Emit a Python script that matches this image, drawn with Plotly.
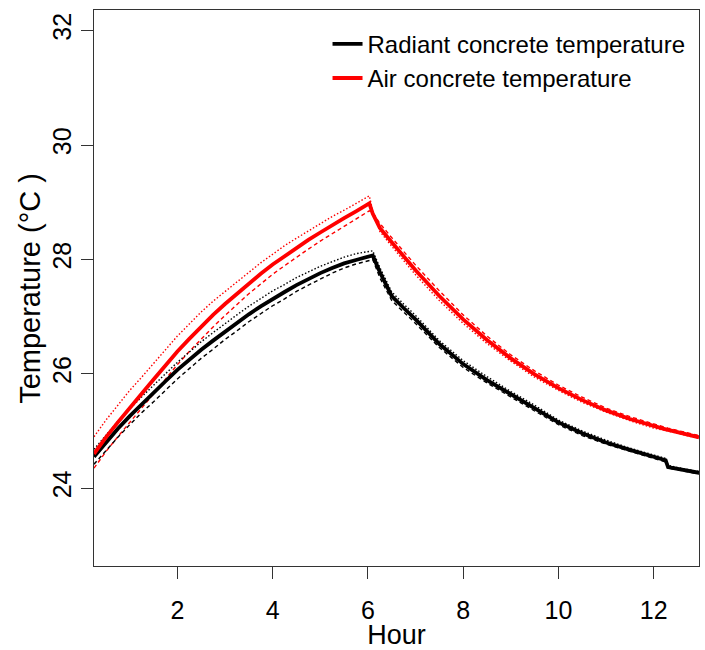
import plotly.graph_objects as go

# Elapsed time (h)
hours = [0.25, 0.5, 0.75, 1.0, 1.25, 1.5, 1.75, 2.0, 2.25, 2.5, 2.75, 3.0, 3.25, 3.5,
         3.75, 4.0, 4.25, 4.5, 4.75, 5.0, 5.25, 5.5, 5.75, 6.03,
         6.1, 6.25, 6.5, 6.75, 7.0, 7.5, 8.0, 8.5, 9.0, 9.5, 10.0, 10.5, 11.0, 11.5,
         12.0, 12.25, 12.3, 12.5, 12.95]

# Radiant concrete temperature (°C): mean and bounds
radiant = [24.55, 24.80, 25.04, 25.26, 25.47, 25.67, 25.87, 26.07, 26.25, 26.42, 26.58,
           26.74, 26.89, 27.04, 27.18, 27.31, 27.43, 27.55, 27.66, 27.76, 27.85, 27.93,
           27.99, 28.05,
           28.07, 27.78, 27.36, 27.15, 26.95, 26.52, 26.17, 25.89, 25.64, 25.40, 25.15,
           24.96, 24.80, 24.67, 24.55, 24.49, 24.37, 24.34, 24.27]
radiant_dotted = [24.68, 24.93, 25.17, 25.39, 25.60, 25.80, 26.00, 26.20, 26.38, 26.56,
                  26.72, 26.88, 27.03, 27.18, 27.32, 27.45, 27.56, 27.68, 27.78, 27.88,
                  27.96, 28.04, 28.10, 28.15,
                  28.15, 27.86, 27.43, 27.22, 27.02, 26.58, 26.23, 25.95, 25.69, 25.45,
                  25.19, 25.00, 24.84, 24.70, 24.58, 24.52, 24.40, 24.36, 24.29]
radiant_dashed = [24.42, 24.66, 24.89, 25.11, 25.32, 25.51, 25.71, 25.91, 26.09, 26.27,
                  26.43, 26.60, 26.75, 26.91, 27.05, 27.19, 27.31, 27.44, 27.55, 27.66,
                  27.76, 27.85, 27.92, 27.98,
                  28.00, 27.68, 27.28, 27.08, 26.88, 26.46, 26.11, 25.84, 25.59, 25.35,
                  25.11, 24.92, 24.77, 24.64, 24.52, 24.46, 24.35, 24.32, 24.25]

# Air concrete temperature (°C): mean and bounds
air = [24.60, 24.89, 25.15, 25.41, 25.65, 25.90, 26.15, 26.39, 26.61, 26.83, 27.03, 27.22,
       27.40, 27.58, 27.75, 27.91, 28.06, 28.20, 28.34, 28.47, 28.60, 28.72, 28.84, 28.98,
       28.80, 28.55, 28.30, 28.05, 27.81, 27.36, 26.95, 26.59, 26.27, 25.99, 25.75, 25.54,
       25.36, 25.21, 25.08, 25.03, 25.02, 24.98, 24.89]
air_dotted = [24.90, 25.19, 25.45, 25.71, 25.94, 26.18, 26.43, 26.66, 26.87, 27.08, 27.27,
              27.44, 27.61, 27.78, 27.94, 28.09, 28.24, 28.37, 28.50, 28.62, 28.75, 28.86,
              28.98, 29.11,
              28.85, 28.49, 28.23, 27.97, 27.73, 27.28, 26.88, 26.53, 26.22, 25.94, 25.71,
              25.50, 25.33, 25.18, 25.05, 25.01, 25.00, 24.96, 24.87]
air_dashed = [24.35, 24.64, 24.90, 25.16, 25.40, 25.65, 25.91, 26.16, 26.39, 26.61, 26.82,
              27.02, 27.21, 27.40, 27.57, 27.74, 27.89, 28.04, 28.18, 28.32, 28.45, 28.58,
              28.70, 28.85,
              28.82, 28.63, 28.38, 28.14, 27.90, 27.45, 27.03, 26.66, 26.33, 26.05, 25.80,
              25.59, 25.40, 25.25, 25.12, 25.06, 25.05, 25.01, 24.92]

x_ticks = [2, 4, 6, 8, 10, 12]
y_ticks = [24, 26, 28, 30, 32]

FONT = "Liberation Sans, Arial, sans-serif"
AXIS = "#333333"
DOT = "1.5px,2px"
DASH = "4px,3px"

fig = go.Figure()

for ys, col, dash in [(air_dotted, "red", DOT), (air_dashed, "red", DASH),
                      (radiant_dotted, "black", DOT), (radiant_dashed, "black", DASH)]:
    fig.add_trace(go.Scatter(x=hours, y=ys, mode="lines", showlegend=False,
                             line=dict(color=col, width=1.4, dash=dash),
                             hoverinfo="skip"))

fig.add_trace(go.Scatter(x=hours, y=radiant, mode="lines",
                         name="Radiant concrete temperature",
                         line=dict(color="black", width=3.8)))
fig.add_trace(go.Scatter(x=hours, y=air, mode="lines",
                         name="Air concrete temperature",
                         line=dict(color="red", width=3.8)))

axis_common = dict(
    showline=True, mirror=True, linecolor=AXIS, linewidth=1.3,
    ticks="outside", ticklen=12, tickwidth=1.3, tickcolor=AXIS,
    showgrid=False, zeroline=False,
    tickfont=dict(family=FONT, size=25, color="black"),
)

fig.update_layout(
    width=705, height=650,
    margin=dict(l=94, r=5, t=10, b=82),
    paper_bgcolor="white", plot_bgcolor="white",
    font=dict(family=FONT, size=24, color="black"),
    xaxis=dict(range=[0.25, 12.95], tickvals=x_ticks, ticklabelstandoff=10,
               title=dict(text="Hour", font=dict(family=FONT, size=27), standoff=2),
               **axis_common),
    yaxis=dict(range=[22.64, 32.36], tickvals=y_ticks, tickangle=-90,
               ticklabelstandoff=0, **axis_common),
    legend=dict(x=0.386, y=0.979, xanchor="left", yanchor="top",
                bgcolor="rgba(0,0,0,0)", font=dict(family=FONT, size=24),
                tracegroupgap=0, itemwidth=30),
    showlegend=True,
    annotations=[dict(text="Temperature (°C )", xref="paper", yref="paper",
                      x=-0.106, y=0.5, xanchor="center", yanchor="middle",
                      textangle=-90, showarrow=False,
                      font=dict(family=FONT, size=29, color="black"))],
)

fig.write_html("out.html")
